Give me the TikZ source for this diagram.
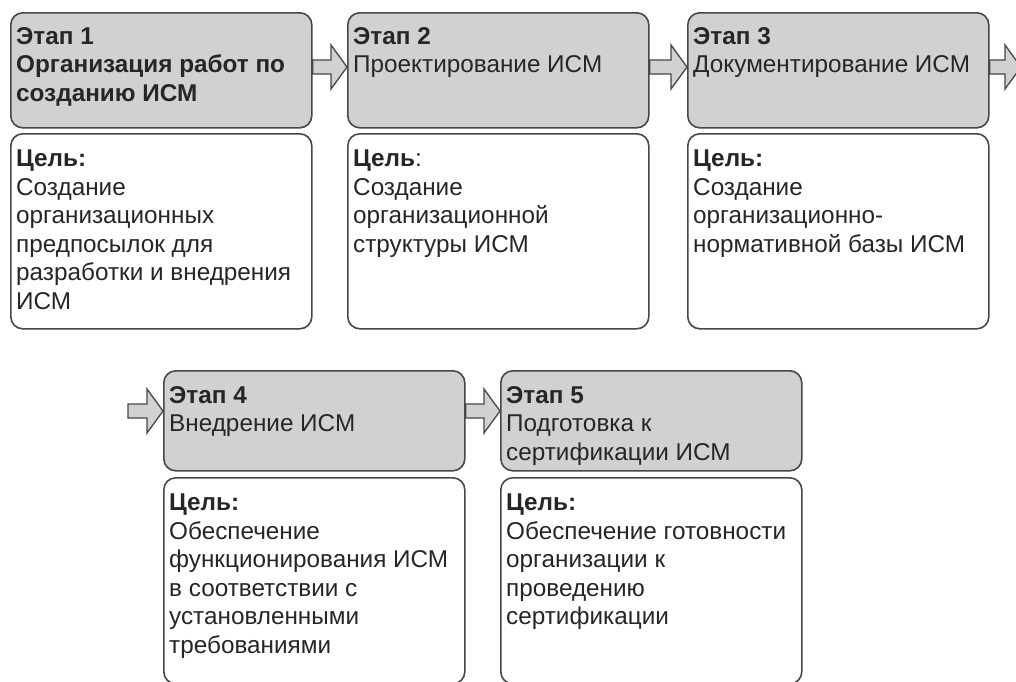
\documentclass[tikz,border=0pt]{standalone}
\usepackage{fontspec}
\setmainfont{Liberation Sans}
\usetikzlibrary{calc}

\begin{document}
\begin{tikzpicture}[x=1pt, y=-1pt,
  stagebox/.style={draw=black!72, line width=1.6pt, fill=black!18,
    rounded corners=12pt, anchor=north west, inner sep=0pt,
    minimum width=301pt, minimum height=#1pt},
  goalbox/.style={stagebox=#1, fill=white},
  txt/.style={anchor=north west, align=left, inner sep=0pt,
    font=\fontsize{24.3}{28.5}\selectfont, text=black!85},
  flow/.style={draw=black!72, line width=1.3pt, fill=black!18, line join=miter}]

\def\sw{7}    % half shaft
\def\hw{22}   % half head
\def\hl{16}   % head length

\clip (0,0) rectangle (1016,681);

% stage boxes (grey) and goal boxes (white)
\foreach \n/\xx/\yy/\hh in {1/10/12/115, 2/347/12/115, 3/687/12/115,
                            4/163/370/100, 5/500/370/100}
  \node[stagebox=\hh] (g\n) at (\xx,\yy) {};
\foreach \n/\xx/\yy/\hh in {1/10/133/195, 2/347/133/195, 3/687/133/195,
                            4/163/477/206, 5/500/477/206}
  \node[goalbox=\hh] (w\n) at (\xx,\yy) {};

% stage texts
\node[txt] (l1) at ($(g1.north west)+(6,15)$)
  {\textbf{Этап 1}\\ \textbf{Организация работ по}\\ \textbf{созданию ИСМ}};
\node[txt] (l2) at ($(g2.north west)+(6,15)$)
  {\textbf{Этап 2}\\ Проектирование ИСМ};
\node[txt] (l3) at ($(g3.north west)+(6,15)$)
  {\textbf{Этап 3}\\ Документирование ИСМ};
\node[txt] (l4) at ($(g4.north west)+(6,16)$)
  {\textbf{Этап 4}\\ Внедрение ИСМ};
\node[txt] (l5) at ($(g5.north west)+(6,16)$)
  {\textbf{Этап 5}\\ Подготовка к\\ сертификации ИСМ};

% goal texts
\node[txt] (c1) at ($(w1.north west)+(6,17)$)
  {\textbf{Цель:}\\ Создание\\ организационных\\ предпосылок для\\ разработки и внедрения\\ ИСМ};
\node[txt] (c2) at ($(w2.north west)+(6,17)$)
  {\textbf{Цель}:\\ Создание\\ организационной\\ структуры ИСМ};
\node[txt] (c3) at ($(w3.north west)+(6,17)$)
  {\textbf{Цель:}\\ Создание\\ организационно-\\ нормативной базы ИСМ};
\node[txt] (c4) at ($(w4.north west)+(6,17)$)
  {\textbf{Цель:}\\ Обеспечение\\ функционирования ИСМ\\ в соответствии с\\ установленными\\ требованиями};
\node[txt] (c5) at ($(w5.north west)+(6,17)$)
  {\textbf{Цель:}\\ Обеспечение готовности\\ организации к\\ проведению\\ сертификации};

% block arrows between stages
\coordinate (outarrow) at (1021,67);
\coordinate (inarrow) at (128,411);
\foreach \a/\b/\yy in {g1.east/g2.west/67, g2.east/g3.west/67, g3.east/outarrow/67,
                       inarrow/g4.west/411, g4.east/g5.west/411}
  \draw[flow] let \p1=(\a |- 0,\yy), \p2=(\b |- 0,\yy) in
    (\x1,\y1+\sw pt) -- (\x2-\hl pt,\y1+\sw pt) -- (\x2-\hl pt,\y1+\hw pt)
    -- (\x2,\y1) -- (\x2-\hl pt,\y1-\hw pt) -- (\x2-\hl pt,\y1-\sw pt)
    -- (\x1,\y1-\sw pt) -- cycle;

\end{tikzpicture}
\end{document}
